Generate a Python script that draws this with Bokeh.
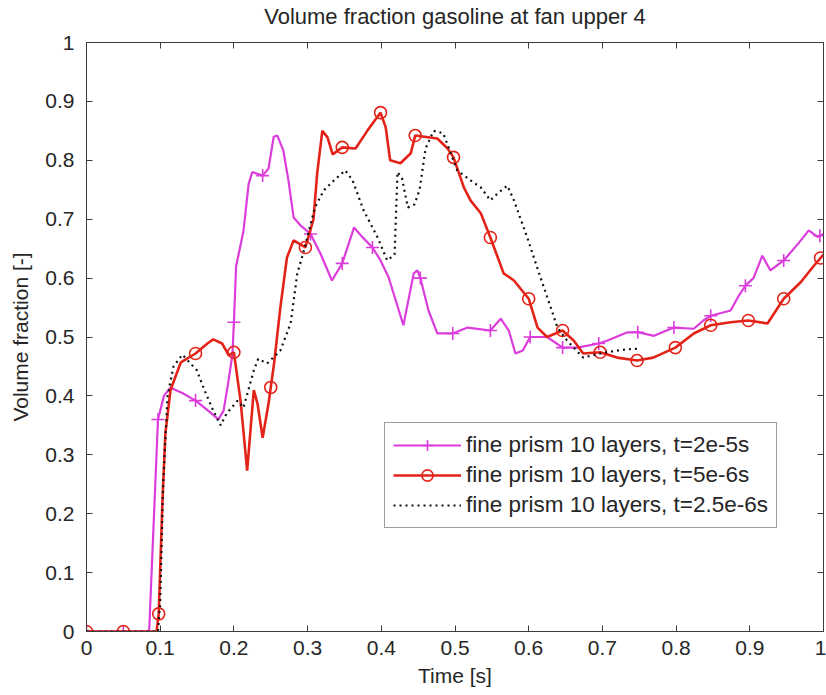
import numpy as np
from bokeh.plotting import figure
from bokeh.models import Range1d, LinearAxis, FixedTicker, Legend, LegendItem
from bokeh.embed import file_html
from bokeh.resources import INLINE

# ---------------- data ----------------
title_text = "Volume fraction gasoline at fan upper 4"
x_label = "Time [s]"
y_label = "Volume fraction [-]"

tick_vals = [0.0, 0.1, 0.2, 0.3, 0.4, 0.5, 0.6, 0.7, 0.8, 0.9, 1.0]
tick_labels = ["0", "0.1", "0.2", "0.3", "0.4", "0.5", "0.6", "0.7", "0.8", "0.9", "1"]

label_a = "fine prism 10 layers, t=2e-5s"
label_b = "fine prism 10 layers, t=5e-6s"
label_c = "fine prism 10 layers, t=2.5e-6s"

# series A: magenta, t=2e-5s
a_x = [0.0, 0.05, 0.085, 0.09, 0.097, 0.105, 0.114, 0.13, 0.148, 0.165,
       0.179, 0.186, 0.192, 0.198, 0.2, 0.203, 0.213, 0.22, 0.225, 0.239,
       0.247, 0.254, 0.259, 0.267, 0.274, 0.281, 0.29, 0.304, 0.318, 0.333,
       0.347, 0.363, 0.374, 0.388, 0.399, 0.41, 0.43, 0.444, 0.449, 0.453,
       0.464, 0.476, 0.497, 0.517, 0.548, 0.562, 0.573, 0.582, 0.592, 0.602,
       0.625, 0.646, 0.666, 0.695, 0.707, 0.734, 0.748, 0.77, 0.797, 0.824,
       0.837, 0.847, 0.874, 0.885, 0.894, 0.905, 0.917, 0.928, 0.946, 0.966,
       0.98, 0.992, 1.0]
a_y = [0.0, 0.0, 0.0, 0.15, 0.36, 0.40, 0.414, 0.405, 0.392, 0.375,
       0.36, 0.375, 0.42, 0.47, 0.525, 0.62, 0.68, 0.76, 0.78, 0.774,
       0.786, 0.84, 0.842, 0.817, 0.766, 0.703, 0.69, 0.675, 0.64, 0.596,
       0.625, 0.686, 0.67, 0.652, 0.63, 0.601, 0.52, 0.608, 0.613, 0.60,
       0.545, 0.506, 0.506, 0.516, 0.511, 0.531, 0.511, 0.472, 0.477, 0.50,
       0.50, 0.482, 0.482, 0.489, 0.494, 0.508, 0.508, 0.502, 0.516, 0.514,
       0.528, 0.536, 0.545, 0.57, 0.587, 0.60, 0.638, 0.613, 0.63, 0.659,
       0.681, 0.67, 0.675]
a_marker_x = [0.0, 0.05, 0.097, 0.148, 0.2, 0.239, 0.304, 0.347, 0.388, 0.453,
              0.497, 0.548, 0.602, 0.646, 0.695, 0.748, 0.797, 0.847, 0.894,
              0.946, 0.995]

# series B: red, t=5e-6s
b_x = [0.0, 0.05, 0.095, 0.098, 0.103, 0.107, 0.114, 0.128, 0.148, 0.164,
       0.172, 0.184, 0.193, 0.2, 0.209, 0.218, 0.227, 0.232, 0.239, 0.247,
       0.255, 0.263, 0.272, 0.281, 0.297, 0.308, 0.313, 0.32, 0.327, 0.334,
       0.347, 0.365, 0.381, 0.399, 0.406, 0.412, 0.426, 0.44, 0.446, 0.476,
       0.49, 0.498, 0.512, 0.521, 0.535, 0.548, 0.566, 0.58, 0.6, 0.612,
       0.625, 0.646, 0.661, 0.674, 0.697, 0.72, 0.747, 0.769, 0.799, 0.824,
       0.847, 0.874, 0.898, 0.924, 0.946, 0.969, 0.987, 1.0]
b_y = [0.0, 0.0, 0.0, 0.03, 0.22, 0.336, 0.41, 0.457, 0.472, 0.489,
       0.496, 0.489, 0.469, 0.474, 0.392, 0.273, 0.41, 0.387, 0.329, 0.387,
       0.46, 0.55, 0.635, 0.664, 0.652, 0.70, 0.778, 0.85, 0.839, 0.81,
       0.822, 0.82, 0.85, 0.881, 0.856, 0.80, 0.795, 0.812, 0.842, 0.837,
       0.82, 0.805, 0.754, 0.732, 0.71, 0.669, 0.608, 0.596, 0.565, 0.516,
       0.50, 0.511, 0.494, 0.472, 0.474, 0.465, 0.46, 0.465, 0.482, 0.506,
       0.52, 0.525, 0.528, 0.523, 0.565, 0.593, 0.621, 0.64]
b_marker_x = [0.0, 0.05, 0.098, 0.148, 0.2, 0.25, 0.297, 0.347, 0.399, 0.446,
              0.498, 0.548, 0.6, 0.646, 0.697, 0.747, 0.799, 0.847, 0.898,
              0.946, 0.996]

# series C: black dotted, t=2.5e-6s
c_x = [0.0, 0.097, 0.1, 0.104, 0.11, 0.118, 0.13, 0.15, 0.159, 0.172,
       0.182, 0.19, 0.205, 0.213, 0.227, 0.233, 0.245, 0.259, 0.263, 0.277,
       0.286, 0.294, 0.31, 0.322, 0.335, 0.351, 0.361, 0.376, 0.395, 0.408,
       0.418, 0.422, 0.428, 0.436, 0.445, 0.452, 0.46, 0.471, 0.484, 0.503,
       0.521, 0.535, 0.548, 0.558, 0.571, 0.58, 0.598, 0.616, 0.63, 0.639,
       0.652, 0.674, 0.697, 0.72, 0.742, 0.75]
c_y = [0.0, 0.0, 0.05, 0.25, 0.40, 0.45, 0.47, 0.443, 0.413, 0.375,
       0.35, 0.37, 0.392, 0.38, 0.443, 0.463, 0.455, 0.472, 0.477, 0.523,
       0.608, 0.642, 0.72, 0.749, 0.765, 0.783, 0.766, 0.715, 0.669, 0.63,
       0.64, 0.78, 0.77, 0.72, 0.725, 0.75, 0.82, 0.85, 0.846, 0.783,
       0.766, 0.754, 0.732, 0.744, 0.757, 0.732, 0.669, 0.601, 0.55, 0.516,
       0.494, 0.465, 0.472, 0.477, 0.48, 0.48]

# ---------------- style ----------------
MAG = "#dc3cdc"
RED = "#e42318"
BLK = "#111111"
AX = "#3c3c3c"
FONT = "Liberation Sans"
TXT = "#262626"

p = figure(width=826, height=695, output_backend="svg", toolbar_location=None,
           x_range=Range1d(0, 1), y_range=Range1d(0, 1),
           title=title_text,
           min_border_left=86, min_border_right=3,
           min_border_top=42, min_border_bottom=64,
           background_fill_color="white", border_fill_color="white")

p.grid.visible = False
p.outline_line_color = AX
p.outline_line_width = 1

p.title.text_font = FONT
p.title.text_font_size = "22px"
p.title.text_font_style = "normal"
p.title.text_color = TXT
p.title.align = "center"
p.title.standoff = 0

ticker = FixedTicker(ticks=tick_vals)
overrides = dict(zip(tick_vals, tick_labels))


def style_axis(ax, show_labels=True):
    ax.ticker = ticker
    ax.major_tick_in = 6
    ax.major_tick_out = 0
    ax.minor_tick_in = 0
    ax.minor_tick_out = 0
    ax.axis_line_color = AX
    ax.major_tick_line_color = AX
    if show_labels:
        ax.major_label_overrides = overrides
        ax.major_label_text_font = FONT
        ax.major_label_text_font_size = "21px"
        ax.major_label_text_color = TXT
        ax.axis_label_text_font = FONT
        ax.axis_label_text_font_size = "21px"
        ax.axis_label_text_font_style = "normal"
        ax.axis_label_text_color = TXT
    else:
        # tick marks only, no tick labels drawn
        ax.major_label_text_color = None
        ax.major_label_text_font_size = "1px"
        ax.major_label_standoff = 0
        ax.axis_label = None


style_axis(p.xaxis[0])
style_axis(p.yaxis[0])
p.xaxis[0].axis_label = x_label
p.yaxis[0].axis_label = y_label
p.xaxis[0].major_label_standoff = 9
p.xaxis[0].axis_label_standoff = 6
p.yaxis[0].major_label_standoff = 12
p.yaxis[0].axis_label_standoff = 10

top_ax = LinearAxis()
right_ax = LinearAxis()
style_axis(top_ax, show_labels=False)
style_axis(right_ax, show_labels=False)
p.add_layout(top_ax, "above")
p.add_layout(right_ax, "right")

# invisible spacer between the title and the frame
spacer = LinearAxis()
style_axis(spacer, show_labels=False)
spacer.axis_line_color = None
spacer.major_tick_line_color = None
spacer.major_tick_in = 0
spacer.major_tick_out = 14
p.add_layout(spacer, "above")

# ---------------- glyphs ----------------
a_line = p.line(a_x, a_y, line_color=MAG, line_width=2.2)
a_mk = p.scatter(a_marker_x, np.interp(a_marker_x, a_x, a_y), marker="cross",
                 size=13, line_color=MAG, line_width=1.6)

b_line = p.line(b_x, b_y, line_color=RED, line_width=2.6)
b_mk = p.scatter(b_marker_x, np.interp(b_marker_x, b_x, b_y), marker="circle",
                 size=12, line_color=RED, fill_color=None, line_width=1.6)

c_line = p.line(c_x, c_y, line_color=BLK, line_width=2.2, line_dash="2 4")

legend = Legend(items=[
    LegendItem(label=label_a, renderers=[a_line, a_mk]),
    LegendItem(label=label_b, renderers=[b_line, b_mk]),
    LegendItem(label=label_c, renderers=[c_line]),
], location=(298, 103))
legend.label_text_font = FONT
legend.label_text_font_size = "22.5px"
legend.label_text_color = TXT
legend.glyph_width = 68
legend.glyph_height = 28
legend.label_height = 28
legend.label_standoff = 5
legend.padding = 8
legend.spacing = 2
legend.margin = 0
legend.border_line_color = AX
legend.border_line_width = 1
legend.background_fill_color = "white"
legend.background_fill_alpha = 1.0
p.add_layout(legend)

open("out.html", "w").write(file_html(p, INLINE))
